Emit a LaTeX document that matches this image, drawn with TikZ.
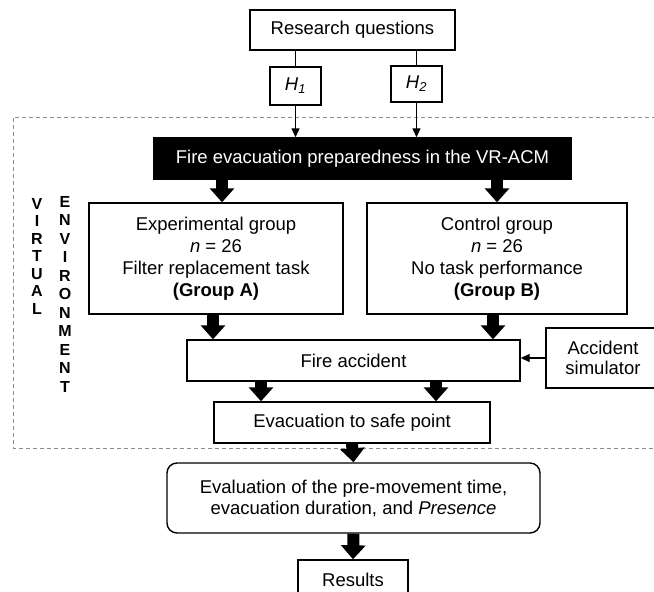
\documentclass[tikz,border=0pt]{standalone}
\usepackage{fontspec}
\setmainfont{Liberation Sans}
\usetikzlibrary{arrows.meta}
\begin{document}
\begin{tikzpicture}[x=1pt,y=-1pt,
  box/.style={draw,line width=1.4pt,inner sep=0pt,align=center,font=\fontsize{18.5}{22}\selectfont},
  bigarrow/.style={line width=12pt,-{Triangle[width=24pt,length=14pt]}},
  thinarrow/.style={line width=1.3pt,-{Triangle[width=8pt,length=9pt]}},
  frame/.style={draw=gray!90,line width=1pt,dash pattern=on 4pt off 3pt},
  vert/.style={align=center,inner sep=0pt}]
\useasboundingbox (0,0) rectangle (654,592);
\clip (0,0) rectangle (654,592);
\fill[white] (0,0) rectangle (654,592);

% dashed frame (virtual environment)
\draw[frame] (670,117) -- (13,117) -- (13,448) -- (670,448);

\node[box,minimum width=205,minimum height=40] (rq) at (352.5,30) {Research questions};
\node[box,minimum width=51,minimum height=38] (h1) at (295.5,86) {\textit{H}\textsubscript{\textit{1}}};
\node[box,minimum width=51,minimum height=36] (h2) at (416.5,84) {\textit{H}\textsubscript{\textit{2}}};

\node[box,fill=black,text=white,minimum width=417,minimum height=41] (bar) at (362.5,158.5)
  {Fire evacuation preparedness in the VR-ACM};

\node[box,minimum width=254,minimum height=111] (exp) at (216,258.5)
  {Experimental group\\ \textit{n} = 26\\ Filter replacement task\\ \textbf{(Group A)}};
\node[box,minimum width=260,minimum height=111] (ctrl) at (497,258.5)
  {Control group\\ \textit{n} = 26\\ No task performance\\ \textbf{(Group B)}};

\node[box,minimum width=333,minimum height=41] (fire) at (353.5,360.5) {Fire accident};
\node[box,minimum width=114,minimum height=60,font=\fontsize{18.5}{20.5}\selectfont] (sim) at (603,358)
  {Accident\\ simulator};

\node[box,minimum width=276,minimum height=41] (evac) at (352,422.5) {Evacuation to safe point};

\node[box,rounded corners=10pt,minimum width=373,minimum height=70,font=\fontsize{18.5}{21}\selectfont] (eval) at (353.5,498)
  {Evaluation of the pre-movement time,\\ evacuation duration, and \textit{Presence}};

\node[box,minimum width=110,minimum height=40] (res) at (353,580) {Results};

\node[vert,font=\bfseries\fontsize{16}{17.5}\selectfont] (virt) at (37,256) {V\\I\\R\\T\\U\\A\\L};
\node[vert,font=\bfseries\fontsize{16}{18.5}\selectfont] (env) at (65,294) {E\\N\\V\\I\\R\\O\\N\\M\\E\\N\\T};

% thin connectors
\draw[line width=1.3pt] (h1.north) -- (h1.north |- rq.south);
\draw[line width=1.3pt] (h2.north) -- (h2.north |- rq.south);
\draw[thinarrow] (h1.south) -- (h1.south |- bar.north);
\draw[thinarrow] (h2.south) -- (h2.south |- bar.north);
\draw[thinarrow] (sim.west) -- (sim.west -| fire.east);

% x positions of thick arrows
\coordinate (xa) at (222,0);
\coordinate (xb) at (497,0);
\coordinate (xc) at (213,0);
\coordinate (xd) at (493,0);
\coordinate (xe) at (261,0);
\coordinate (xf) at (436,0);

\draw[bigarrow] (xa |- bar.south) -- (xa |- exp.north);
\draw[bigarrow] (xb |- bar.south) -- (xb |- ctrl.north);
\draw[bigarrow] (xc |- exp.south) -- (xc |- fire.north);
\draw[bigarrow] (xd |- ctrl.south) -- (xd |- fire.north);
\draw[bigarrow] (xe |- fire.south) -- (xe |- evac.north);
\draw[bigarrow] (xf |- fire.south) -- (xf |- evac.north);
\draw[bigarrow] (evac.south) -- (eval.north);
\draw[bigarrow] (eval.south) -- (res.north);
\end{tikzpicture}
\end{document}
